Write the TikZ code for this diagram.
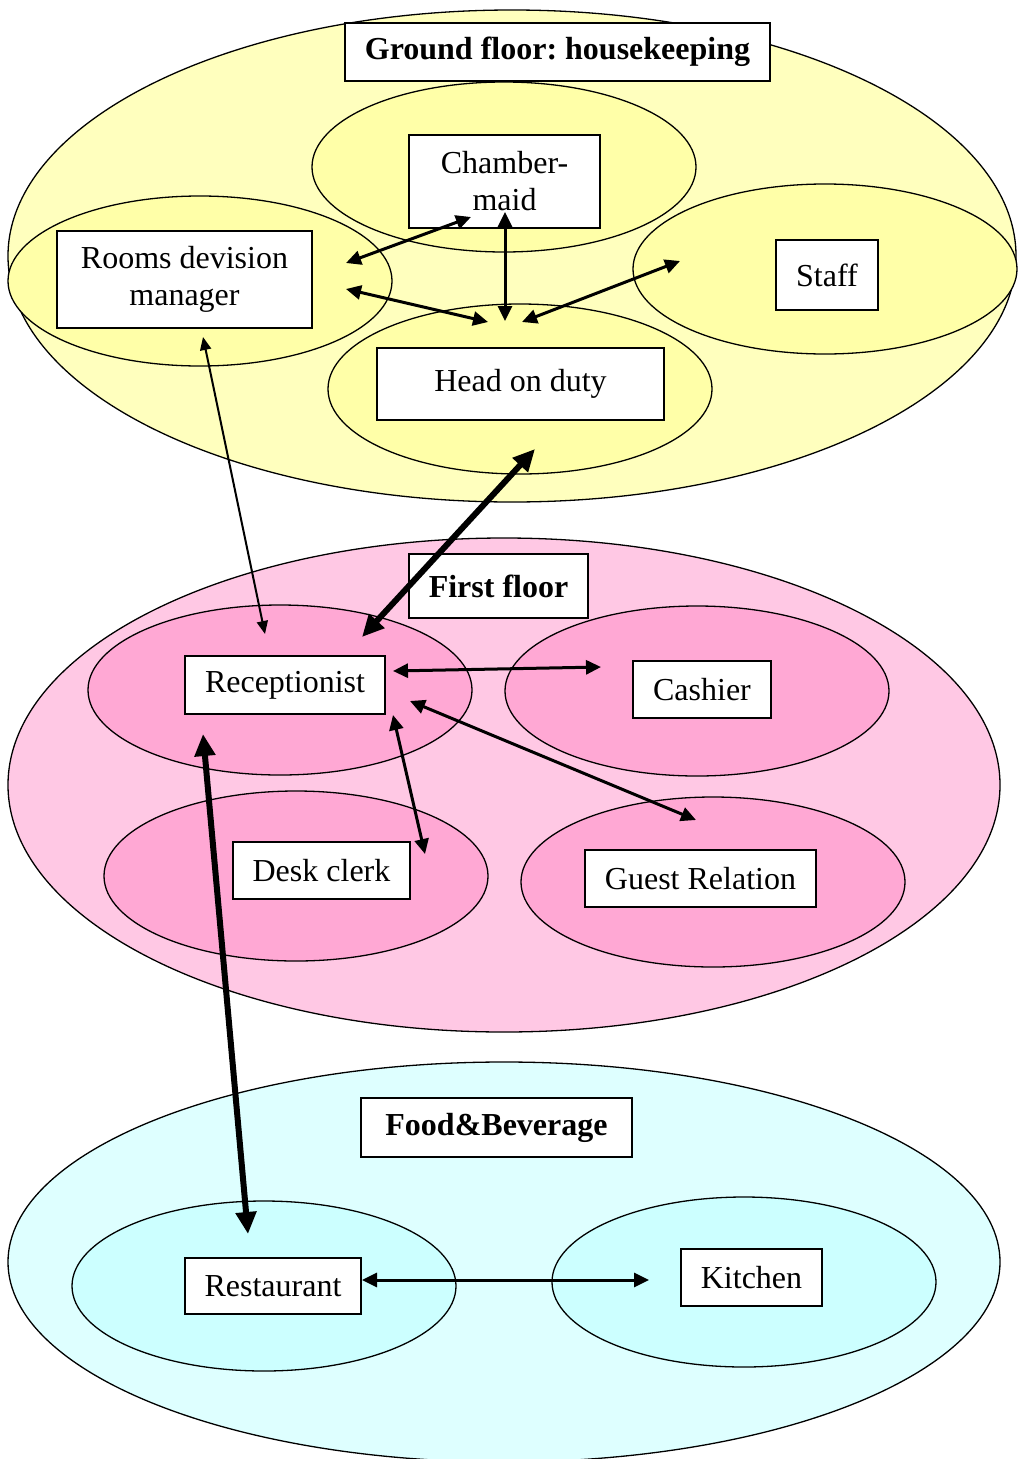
\documentclass[tikz,border=0pt]{standalone}
\usepackage{fontspec}
\setmainfont{Liberation Serif}
\usetikzlibrary{arrows.meta,shapes.geometric}
\definecolor{yOut}{RGB}{255,255,190}
\definecolor{yIn}{RGB}{255,255,168}
\definecolor{pOut}{RGB}{255,200,228}
\definecolor{pIn}{RGB}{255,168,212}
\definecolor{cOut}{RGB}{222,255,255}
\definecolor{cIn}{RGB}{204,255,255}
\frenchspacing
\begin{document}
\begin{tikzpicture}[x=1pt,y=-1pt,
  ell/.style={draw, ellipse, line width=1.3pt, inner sep=0pt},
  sub/.style={ell, minimum width=384pt, minimum height=170pt},
  box/.style={draw, line width=1.5pt, fill=white, inner sep=0pt, align=center,
    font=\fontsize{32}{37}\selectfont},
  title/.style={box, font=\fontsize{32}{37}\selectfont\bfseries},
  link/.style={line width=3pt, {Triangle[length=15pt,width=14pt]}-{Triangle[length=15pt,width=14pt]}},
  thin link/.style={line width=2pt, {Triangle[length=13pt,width=11pt]}-{Triangle[length=13pt,width=11pt]}},
  thick link/.style={line width=6pt, {Triangle[length=22pt,width=20pt]}-{Triangle[length=22pt,width=20pt]}}
]
\useasboundingbox (0,0) rectangle (1019,1459);
\fill[white] (0,0) rectangle (1019,1459);

% ---- ground floor ----
\node[ell, fill=yOut, minimum width=1008pt, minimum height=492pt] (gfE) at (512,256) {};
\node[sub, fill=yIn] (cmE) at (504,167) {};
\node[sub, fill=yIn] (rdE) at (200,281) {};
\node[sub, fill=yIn] (stE) at (825,269) {};
\node[sub, fill=yIn] (hdE) at (520,389) {};

\node[title, minimum width=425pt, minimum height=58pt] (gf) at (557.5,52) {Ground floor: housekeeping};
\node[box, minimum width=191pt, minimum height=93pt] (cm) at (504.5,181.5) {Chamber-\\maid};
\node[box, minimum width=255pt, minimum height=97pt] (rd) at (184.5,279.5) {Rooms devision\\manager};
\node[box, minimum width=102pt, minimum height=70pt] (st) at (827,275) {Staff};
\node[box, minimum width=287pt, minimum height=72pt] (hd) at (520.5,384) {Head on duty};

% ---- first floor ----
\node[ell, fill=pOut, minimum width=992pt, minimum height=494pt] (ffE) at (504,785) {};
\node[sub, fill=pIn] (reE) at (280,690) {};
\node[sub, fill=pIn] (caE) at (697,691) {};
\node[sub, fill=pIn] (dcE) at (296,876) {};
\node[sub, fill=pIn] (grE) at (713,882) {};

\node[title, minimum width=179pt, minimum height=64pt] (ff) at (498.5,586) {First floor};
\node[box, minimum width=200pt, minimum height=58pt] (re) at (285,685) {Receptionist};
\node[box, minimum width=138pt, minimum height=57pt] (ca) at (702,689.5) {Cashier};
\node[box, minimum width=177pt, minimum height=57pt] (dc) at (321.5,870.5) {Desk clerk};
\node[box, minimum width=231pt, minimum height=57pt] (gr) at (700.5,878.5) {Guest Relation};

% ---- food & beverage ----
\node[ell, fill=cOut, minimum width=992pt, minimum height=400pt] (fbE) at (504,1262) {};
\node[sub, fill=cIn] (rsE) at (264,1286) {};
\node[sub, fill=cIn] (kiE) at (744,1282) {};

\node[title, minimum width=271pt, minimum height=59pt] (fb) at (496.5,1127.5) {Food\&Beverage};
\node[box, minimum width=176pt, minimum height=56pt] (rs) at (273,1286) {Restaurant};
\node[box, minimum width=141pt, minimum height=57pt] (ki) at (751.5,1277.5) {Kitchen};

% ---- connector end points ----
\coordinate (rdA) at (346,263);  \coordinate (cmA) at (471,217);
\coordinate (rdB) at (346,289);  \coordinate (hdB) at (488,322);
\coordinate (cmC) at (505,212);  \coordinate (hdC) at (505,321);
\coordinate (stD) at (680,261);  \coordinate (hdD) at (522,322);
\coordinate (rdE) at (203,337);  \coordinate (reE1) at (265,634);
\coordinate (hdF) at (535,449);  \coordinate (reF) at (362,637);
\coordinate (reG) at (393,671);  \coordinate (caG) at (601,667);
\coordinate (reH) at (410,701);  \coordinate (grH) at (696,820);
\coordinate (reI) at (393,715);  \coordinate (dcI) at (425,854);
\coordinate (reJ) at (203,734);  \coordinate (rsJ) at (248,1234);
\coordinate (rsK) at (362,1280); \coordinate (kiK) at (649,1280);

\draw[link] (rdA) -- (cmA);
\draw[link] (rdB) -- (hdB);
\draw[link] (cmC) -- (hdC);
\draw[link] (stD) -- (hdD);
\draw[thin link] (rdE) -- (reE1);
\draw[thick link] (hdF) -- (reF);
\draw[link] (reG) -- (caG);
\draw[link] (reH) -- (grH);
\draw[link] (reI) -- (dcI);
\draw[thick link] (reJ) -- (rsJ);
\draw[link] (rsK) -- (kiK);
\end{tikzpicture}
\end{document}
